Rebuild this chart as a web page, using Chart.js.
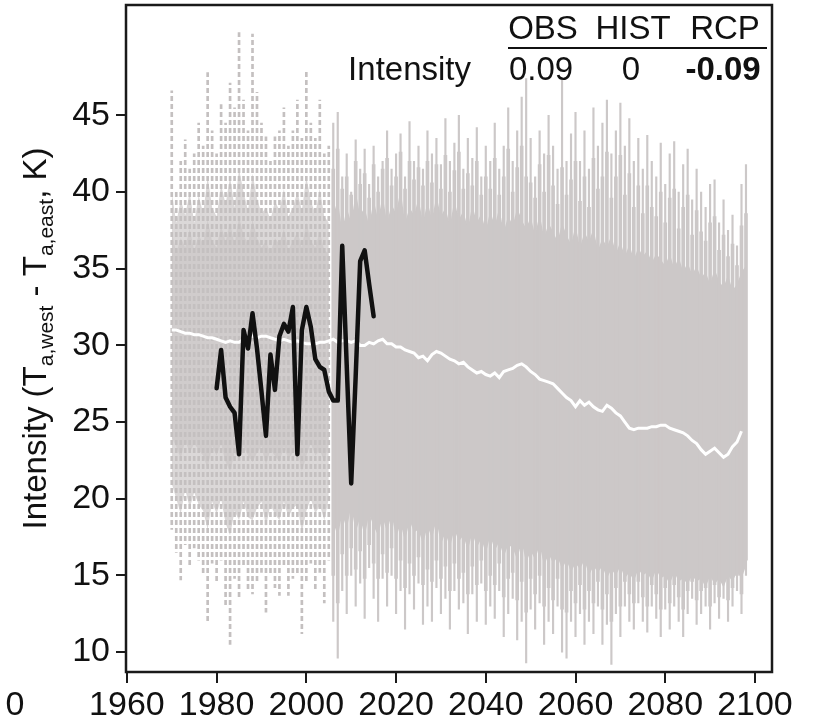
<!DOCTYPE html>
<html><head><meta charset="utf-8">
<script src="https://cdn.jsdelivr.net/npm/chart.js@4.4.1/dist/chart.umd.min.js"></script>
<style>html,body{margin:0;padding:0;background:#fff;}canvas{display:block;}</style>
</head><body>
<canvas id="c" width="813" height="722"></canvas>
<script>
// ---------- data ----------
const xTickLabels = [1960, 1980, 2000, 2020, 2040, 2060, 2080, 2100];
const yTickLabels = [10, 15, 20, 25, 30, 35, 40, 45];

// Historical ensemble (1970-2005): per-year extremes, outer band, inner core
const histFirstYear = 1970;
const histMax = [46.6, 40.0, 42.0, 43.4, 41.5, 42.5, 44.5, 43.0, 47.8, 44.0,
                 42.5, 45.7, 44.5, 47.1, 45.5, 50.4, 46.0, 44.0, 50.3, 46.5,
                 44.5, 43.6, 42.0, 43.6, 44.0, 45.5, 43.0, 44.0, 46.0, 43.5,
                 48.0, 44.5, 43.5, 46.0, 42.5, 43.0];
const histMin = [18.0, 16.5, 14.7, 17.0, 15.5, 16.8, 16.0, 15.0, 11.9, 15.8,
                 14.5, 16.0, 13.0, 10.5, 14.8, 13.5, 15.5, 14.0, 13.8, 14.5,
                 15.2, 12.6, 15.0, 14.2, 13.7, 15.5, 13.7, 14.8, 15.0, 11.2,
                 14.5, 15.8, 14.0, 15.2, 13.2, 16.0];
const histBandHi = [40.0, 38.0, 39.5, 38.5, 40.0, 38.0, 39.8, 38.6, 41.0, 39.0,
                    38.4, 40.5, 39.2, 41.0, 39.0, 41.5, 40.0, 38.8, 41.2, 39.6,
                    38.6, 39.0, 38.2, 39.4, 38.8, 40.2, 38.4, 39.0, 40.0, 38.8,
                    41.0, 39.4, 38.6, 40.2, 38.4, 38.0];
const histBandLo = [21.0, 20.0, 19.0, 20.6, 19.4, 20.4, 19.6, 19.2, 18.0, 19.8,
                    19.0, 20.0, 18.4, 17.6, 19.2, 18.6, 19.8, 18.8, 18.6, 19.4,
                    19.8, 18.2, 19.6, 19.0, 18.6, 19.8, 18.8, 19.4, 19.6, 17.8,
                    19.2, 20.0, 19.0, 19.6, 18.6, 20.0];
const histInnerHi = [37.5, 36.0, 37.0, 36.4, 37.6, 36.2, 37.2, 36.6, 38.2, 36.8,
                     36.4, 37.8, 36.8, 38.0, 36.6, 38.4, 37.2, 36.6, 38.2, 37.0,
                     36.4, 36.8, 36.0, 37.0, 36.6, 37.6, 36.2, 36.8, 37.4, 36.4,
                     38.0, 36.8, 36.4, 37.4, 36.2, 36.0];
const histInnerLo = [24.0, 23.4, 22.6, 23.8, 23.0, 23.6, 23.2, 22.8, 22.0, 23.4,
                     22.8, 23.6, 22.4, 21.8, 23.0, 22.6, 23.4, 22.8, 22.4, 23.0,
                     23.4, 22.2, 23.2, 22.8, 22.4, 23.4, 22.6, 23.0, 23.2, 21.8,
                     22.8, 23.6, 22.8, 23.2, 22.4, 23.6];

// RCP ensemble (2006-2098)
const rcpFirstYear = 2006;
const rcpMax = [44.5, 45.2, 41.0, 42.5, 40.0, 43.4, 41.5, 42.8, 40.5, 43.0,
                41.0, 42.0, 44.0, 41.5, 42.5, 43.8, 41.0, 44.6, 42.0, 43.0,
                41.5, 44.0, 42.5, 43.5, 41.8, 44.8, 42.0, 43.2, 45.0, 41.5,
                43.5, 42.2, 44.2, 41.0, 43.0, 42.0, 44.5, 41.5, 43.0, 45.5,
                42.0, 44.0, 46.2, 47.4, 43.5, 41.0, 44.0, 42.5, 45.0, 43.0,
                41.5, 47.3, 42.0, 43.8, 45.2, 42.0, 44.0, 41.5, 45.5, 43.0,
                44.5, 46.0, 42.5, 44.0, 45.8, 43.0, 44.8, 42.0, 43.5, 41.5,
                43.7, 42.0, 41.0, 43.2, 40.5, 42.5, 43.3, 40.0, 41.8, 42.8,
                39.5, 41.5, 40.0, 39.0, 40.5, 40.8, 38.0, 39.5, 37.5, 38.5,
                36.5, 40.5, 41.8];
const rcpMin = [12.0, 9.6, 14.0, 12.5, 15.0, 13.0, 14.5, 12.2, 15.5, 13.5,
                12.0, 14.8, 13.0, 15.0, 12.5, 14.0, 11.5, 13.8, 12.8, 14.5,
                11.8, 13.0, 12.0, 14.2, 12.5, 13.5, 11.5, 14.0, 12.8, 13.2,
                11.2, 13.8, 12.0, 14.5, 11.8, 13.0, 12.2, 14.0, 11.0, 12.5,
                13.5, 10.8, 12.0, 9.3, 12.8, 11.5, 13.2, 10.5, 12.0, 11.2,
                13.0, 10.0, 9.6, 12.0, 11.0, 12.5, 10.5, 12.0, 11.2, 13.0,
                10.5, 11.8, 9.2, 12.5, 11.0, 13.0, 12.0, 11.5, 13.2, 12.0,
                11.3, 13.0, 12.2, 11.0, 12.8, 11.5, 13.0, 12.0, 11.0, 12.5,
                13.5, 11.8, 12.5, 13.0, 11.5, 13.2, 12.2, 13.5, 12.0, 13.0,
                14.0, 12.5, 15.0];
const rcpMidHi = [41.5, 42.8, 40.2, 41.0, 39.8, 42.0, 40.5, 41.2, 39.6, 41.8,
                  40.0, 41.5, 42.2, 40.4, 41.0, 42.6, 40.2, 42.0, 40.8, 41.6,
                  40.4, 42.0, 40.6, 41.8, 40.2, 42.4, 40.0, 41.4, 42.6, 40.2,
                  41.2, 40.4, 42.0, 39.8, 41.0, 40.2, 42.2, 39.8, 41.0, 42.8,
                  40.0, 41.6, 43.0, 41.0, 40.6, 39.6, 41.8, 40.0, 42.4, 40.4,
                  39.2, 41.6, 39.8, 40.8, 42.0, 39.4, 41.0, 39.0, 42.2, 40.2,
                  41.0, 42.6, 39.6, 41.0, 42.4, 39.8, 41.2, 39.0, 40.4, 38.6,
                  40.4, 39.0, 38.4, 40.0, 38.0, 39.6, 40.2, 37.6, 39.0, 39.8,
                  37.2, 38.8, 37.4, 36.8, 38.0, 38.4, 36.2, 37.2, 35.8, 36.6,
                  35.2, 37.8, 38.6];
const rcpMidLo = [15.0, 13.2, 16.4, 15.0, 16.8, 15.4, 16.6, 14.8, 17.0, 15.8,
                  14.8, 16.4, 15.2, 16.8, 14.8, 16.0, 14.2, 15.8, 15.0, 16.2,
                  14.4, 15.4, 14.6, 16.0, 14.8, 15.6, 14.0, 15.8, 14.8, 15.2,
                  13.8, 15.6, 14.4, 16.0, 14.0, 15.0, 14.4, 15.8, 13.6, 14.8,
                  15.2, 13.4, 14.6, 12.6, 14.8, 13.8, 15.0, 13.0, 14.2, 13.4,
                  14.8, 12.8, 12.6, 14.0, 13.2, 14.4, 12.8, 14.0, 13.2, 14.6,
                  12.8, 13.8, 12.0, 14.2, 13.0, 14.6, 13.8, 13.2, 14.6, 13.6,
                  13.0, 14.4, 13.8, 12.8, 14.2, 13.2, 14.4, 13.6, 12.8, 14.0,
                  14.6, 13.4, 14.0, 14.2, 13.0, 14.4, 13.6, 14.6, 13.4, 14.2,
                  15.0, 13.8, 16.0];
const rcpCoreHi = [38.5, 39.5, 37.5, 39.0, 38.0, 40.0, 38.5, 39.0, 37.8, 39.5,
                   38.2, 39.8, 38.0, 39.2, 38.6, 40.2, 38.0, 39.0, 38.5, 39.6,
                   38.0, 39.4, 38.2, 39.8, 38.4, 39.0, 37.8, 39.5, 38.2, 38.8,
                   37.6, 39.2, 38.0, 38.6, 37.5, 38.8, 37.8, 39.0, 37.4, 38.5,
                   37.8, 39.0, 38.2, 37.6, 38.4, 37.2, 38.6, 37.0, 38.0, 37.4,
                   36.8, 38.0, 37.2, 36.6, 37.8, 36.4, 37.4, 36.8, 37.6, 36.2,
                   37.0, 36.4, 37.2, 36.0, 36.8, 35.8, 36.6, 35.6, 36.4, 35.8,
                   36.2, 35.4, 36.0, 35.6, 35.2, 36.0, 35.0, 35.8, 34.8, 35.4,
                   34.6, 35.2, 34.4, 34.8, 34.0, 35.0, 34.2, 33.8, 34.6, 33.6,
                   34.0, 34.8, 35.2];
const rcpCoreLo = [18.5, 17.5, 19.0, 18.0, 19.5, 17.8, 18.8, 17.5, 19.0, 18.2,
                   17.6, 18.8, 17.8, 19.0, 17.4, 18.4, 17.2, 18.6, 17.8, 18.0,
                   17.0, 18.2, 17.4, 18.6, 17.0, 17.8, 16.8, 18.0, 17.2, 17.6,
                   16.6, 17.8, 16.8, 17.4, 16.4, 17.6, 16.6, 17.2, 16.2, 17.0,
                   16.8, 16.0, 17.2, 15.8, 16.6, 16.0, 17.0, 15.6, 16.4, 15.8,
                   16.2, 15.4, 16.0, 15.2, 15.8, 15.4, 16.0, 15.0, 15.6, 15.2,
                   15.6, 14.8, 15.4, 15.0, 15.6, 14.8, 15.2, 14.6, 15.4, 15.0,
                   15.2, 14.6, 15.4, 14.8, 15.0, 14.4, 15.2, 14.6, 14.8, 14.4,
                   15.0, 14.6, 14.8, 14.2, 15.0, 14.4, 14.8, 14.2, 15.0, 14.6,
                   15.2, 14.8, 15.6];

// Multi-model mean (white line), 1970-2097
const meanFirstYear = 1970;
const meanVals = [31.0, 31.0, 30.9, 30.8, 30.8, 30.7, 30.7, 30.6, 30.5, 30.5,
                  30.4, 30.3, 30.2, 30.3, 30.2, 30.2, 30.4, 30.5, 30.6, 30.5,
                  30.6, 30.6, 30.5, 30.4, 30.3, 30.4, 30.3, 30.2, 30.3, 30.2,
                  30.1, 30.1, 30.1, 30.2, 30.2, 30.3, 30.4, 30.2, 30.3, 30.3,
                  30.2, 30.3, 30.0, 30.0, 30.2, 30.1, 30.3, 30.4, 30.1, 30.1,
                  29.9, 29.9, 29.7, 29.6, 29.5, 29.2, 29.3, 29.0, 29.4, 29.6,
                  29.5, 29.3, 29.1, 29.0, 28.8, 28.9, 28.6, 28.4, 28.2, 28.3,
                  28.1, 28.0, 28.2, 27.9, 28.3, 28.4, 28.5, 28.7, 28.8, 28.6,
                  28.3, 28.1, 27.8, 27.7, 27.6, 27.5, 27.2, 26.9, 26.6, 26.4,
                  26.0, 26.4, 26.1, 26.3, 26.0, 25.8, 25.7, 26.1, 25.9, 25.6,
                  25.4, 25.0, 24.6, 24.5, 24.6, 24.6, 24.6, 24.7, 24.7, 24.8,
                  24.8, 24.6, 24.5, 24.4, 24.3, 24.1, 23.8, 23.6, 23.2, 22.9,
                  23.1, 23.3, 23.0, 22.7, 22.9, 23.4, 23.7, 24.4];

// Observations (black line), 1980-2015
const obsFirstYear = 1980;
const obsVals = [27.2, 29.7, 26.6, 26.0, 25.6, 22.9, 31.0, 29.8, 32.1, 29.8,
                 27.0, 24.1, 29.4, 27.1, 30.6, 31.4, 30.9, 32.5, 22.9, 31.0,
                 32.5, 31.2, 29.1, 28.6, 28.4, 27.0, 26.4, 26.4, 36.5, 28.7,
                 21.0, 28.0, 35.5, 36.2, 34.0, 31.9];

// Trend table
const tableHeaders = ['OBS', 'HIST', 'RCP'];
const tableRowLabel = 'Intensity';
const tableValues = ['0.09', '0', '-0.09'];

// Axis title pieces: [text, isSubscript]
const yTitleParts = [['Intensity (T', false], ['a,west', true], [' - T', false], ['a,east', true], [', K)', false]];

// ---------- helpers ----------
const FONT = '"Liberation Sans", Arial, Helvetica, sans-serif';
const canvas = document.getElementById('c');
const ctx = canvas.getContext('2d');
const seqYears = (first, n) => Array.from({length: n}, (_, i) => first + i);
const toPts = (xs, ys) => xs.map((x, i) => ({x: x, y: ys[i]}));
const toRange = (xs, lo, hi) => xs.map((x, i) => ({x: x, y: [lo[i], hi[i]]}));
function dashPattern(color, on, off) {
  const pc = document.createElement('canvas');
  pc.width = 1; pc.height = on + off;
  const g = pc.getContext('2d');
  g.fillStyle = color; g.fillRect(0, 0, 1, on);
  return ctx.createPattern(pc, 'repeat');
}

const histYears = seqYears(histFirstYear, histMax.length);
const rcpYears = seqYears(rcpFirstYear, rcpMax.length);
const meanYears = seqYears(meanFirstYear, meanVals.length);
const obsYears = seqYears(obsFirstYear, obsVals.length);

const RCP_GRAY = 'rgb(204,200,200)';
const HIST_BAND = 'rgb(219,216,216)';
const HIST_INNER = 'rgb(208,204,204)';
const HIST_DASH = dashPattern('rgb(196,192,192)', 5, 3);
const CLEAR = 'rgba(0,0,0,0)';

const decor = {
  id: 'decor',
  afterDraw(chart) {
    const c = chart.ctx, a = chart.chartArea;
    c.save();
    // frame
    c.strokeStyle = '#1a1a1a'; c.lineWidth = 2.5;
    c.strokeRect(a.left, a.top, a.right - a.left, a.bottom - a.top);
    // table
    c.fillStyle = '#111';
    c.textBaseline = 'middle';
    c.font = '33px ' + FONT;
    c.textAlign = 'center';
    const colX = [543, 633, 725];
    tableHeaders.forEach((h, i) => c.fillText(h, colX[i], 30));
    c.lineWidth = 2; c.strokeStyle = '#111';
    c.beginPath(); c.moveTo(508, 48); c.lineTo(767, 48); c.stroke();
    c.textAlign = 'right';
    c.fillText(tableRowLabel, 471, 71);
    c.textAlign = 'center';
    tableValues.forEach((v, i) => {
      c.font = (i === 2 ? 'bold ' : '') + '33px ' + FONT;
      c.fillText(v, colX[i] - 2, 71);
    });
    // clipped neighbour tick label
    c.font = '34px ' + FONT;
    c.textAlign = 'center';
    c.fillText('0', 15, 706);
    // y-axis title with subscripts
    const big = '33px ' + FONT, small = '21px ' + FONT;
    let total = 0;
    yTitleParts.forEach(([t, sub]) => { c.font = sub ? small : big; total += c.measureText(t).width; });
    c.translate(46, (a.top + a.bottom) / 2);
    c.rotate(-Math.PI / 2);
    c.textAlign = 'left'; c.textBaseline = 'alphabetic';
    let px = -total / 2;
    yTitleParts.forEach(([t, sub]) => {
      c.font = sub ? small : big;
      c.fillText(t, px, sub ? 7 : 0);
      px += c.measureText(t).width;
    });
    c.restore();
  }
};

const lineBand = (label, ys, xs, fill, color, order) => ({
  type: 'line', label: label, data: toPts(xs, ys), borderColor: CLEAR, borderWidth: 0,
  pointRadius: 0, fill: fill, backgroundColor: color || CLEAR, order: order
});

new Chart(ctx, {
  type: 'bar',
  data: {
    datasets: [
      lineBand('HIST band low', histBandLo, histYears, false, null, 20),
      lineBand('HIST band high', histBandHi, histYears, '-1', HIST_BAND, 19),
      lineBand('HIST inner low', histInnerLo, histYears, false, null, 18),
      lineBand('HIST inner high', histInnerHi, histYears, '-1', HIST_INNER, 17),
      lineBand('RCP core low', rcpCoreLo, rcpYears, false, null, 16),
      lineBand('RCP core high', rcpCoreHi, rcpYears, '-1', RCP_GRAY, 15),
      {type: 'bar', label: 'HIST range', data: toRange(histYears, histMin, histMax), backgroundColor: HIST_DASH, barThickness: 2, grouped: false, order: 6},
      {type: 'bar', label: 'RCP mid range', data: toRange(rcpYears, rcpMidLo, rcpMidHi), backgroundColor: RCP_GRAY, barThickness: 3, grouped: false, order: 5},
      {type: 'bar', label: 'RCP range', data: toRange(rcpYears, rcpMin, rcpMax), backgroundColor: RCP_GRAY, barThickness: 1.5, grouped: false, order: 4},
      {type: 'line', label: 'Mean', data: toPts(meanYears, meanVals), borderColor: '#ffffff', borderWidth: 3, pointRadius: 0, fill: false, tension: 0, order: 2},
      {type: 'line', label: 'OBS', data: toPts(obsYears, obsVals), borderColor: '#111111', borderWidth: 4.5, pointRadius: 0, fill: false, tension: 0, borderJoinStyle: 'round', borderCapStyle: 'round', order: 1}
    ]
  },
  options: {
    responsive: false,
    animation: false,
    devicePixelRatio: 1,
    layout: {padding: {top: 5, right: 41, bottom: 0, left: 0}},
    plugins: {legend: {display: false}, tooltip: {enabled: false}, title: {display: false}},
    scales: {
      x: {
        type: 'linear', min: 1959.8, max: 2103.8, offset: false,
        afterBuildTicks: s => { s.ticks = xTickLabels.map(v => ({value: v})); },
        afterFit: s => { s.height = 50; s.paddingLeft = 0; s.paddingRight = 0; },
        grid: {display: true, drawOnChartArea: false, drawTicks: true, tickLength: 11, color: '#1a1a1a', lineWidth: 2, offset: false},
        border: {display: false},
        ticks: {color: '#111', font: {family: FONT, size: 34}, padding: 2, maxRotation: 0, autoSkip: false, callback: v => String(v)}
      },
      y: {
        type: 'linear', min: 8.7, max: 52.2,
        afterBuildTicks: s => { s.ticks = yTickLabels.map(v => ({value: v})); },
        afterFit: s => { s.width = 126; s.paddingTop = 0; s.paddingBottom = 0; },
        grid: {display: true, drawOnChartArea: false, drawTicks: true, tickLength: 10, color: '#1a1a1a', lineWidth: 2},
        border: {display: false},
        ticks: {color: '#111', font: {family: FONT, size: 34}, padding: 6, autoSkip: false, callback: v => String(v)}
      }
    }
  },
  plugins: [decor]
});
</script>
</body></html>
